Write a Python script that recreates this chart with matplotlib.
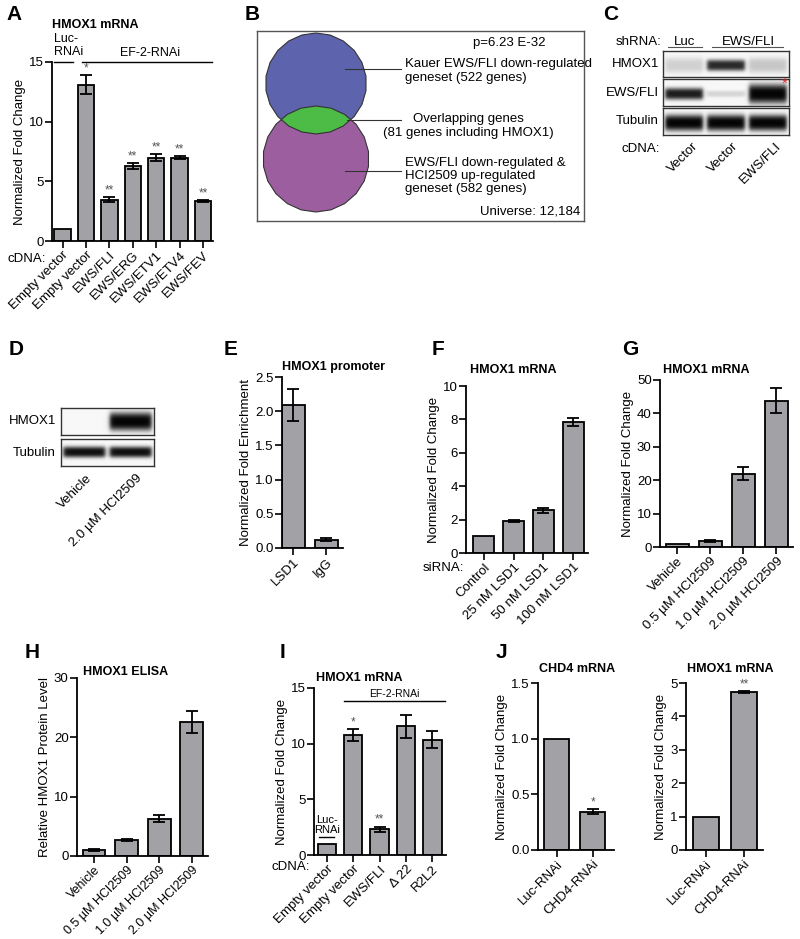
import numpy as np
import matplotlib
matplotlib.use("Agg")
import matplotlib.pyplot as plt
from matplotlib.patches import RegularPolygon

plt.rcParams['font.family'] = ['Liberation Sans', 'DejaVu Sans']
plt.rcParams['font.size'] = 9.5

W, H = 800, 939
BAR_COLOR = "#a2a2a6"

# ── Data ────────────────────────────────────────────────────────────────
a_labels = ["Empty vector", "Empty vector", "EWS/FLI", "EWS/ERG",
            "EWS/ETV1", "EWS/ETV4", "EWS/FEV"]
a_vals = [1.0, 13.1, 3.45, 6.28, 6.97, 6.97, 3.33]
a_errs = [0, 0.82, 0.22, 0.27, 0.3, 0.12, 0.1]
a_stars = ["", "*", "**", "**", "**", "**", "**"]

e_labels = ["LSD1", "IgG"]
e_vals = [2.09, 0.12]
e_errs = [0.24, 0.02]

f_labels = ["Control", "25 nM LSD1", "50 nM LSD1", "100 nM LSD1"]
f_vals = [1.0, 1.9, 2.55, 7.85]
f_errs = [0, 0.05, 0.14, 0.22]

g_labels = ["Vehicle", "0.5 µM HCI2509", "1.0 µM HCI2509", "2.0 µM HCI2509"]
g_vals = [1.0, 1.7, 22.0, 43.8]
g_errs = [0, 0.25, 2.0, 3.8]

h_labels = ["Vehicle", "0.5 µM HCI2509", "1.0 µM HCI2509", "2.0 µM HCI2509"]
h_vals = [0.95, 2.65, 6.3, 22.6]
h_errs = [0.15, 0.15, 0.6, 1.85]

i_labels = ["Empty vector", "Empty vector", "EWS/FLI", "Δ 22", "R2L2"]
i_vals = [1.0, 10.8, 2.3, 11.55, 10.35]
i_errs = [0, 0.55, 0.25, 1.05, 0.75]
i_stars = ["", "*", "**", "", ""]

j_labels = ["Luc-RNAi", "CHD4-RNAi"]
j1_vals = [1.0, 0.345]
j1_errs = [0, 0.02]
j2_vals = [1.0, 4.73]
j2_errs = [0, 0.03]

# western blot band intensities (0 = no band, 1 = saturated)
c_rows = ["HMOX1", "EWS/FLI", "Tubulin"]
c_lanes = ["Vector", "Vector", "EWS/FLI"]
c_levels = [[0.16, 0.85, 0.2], [0.9, 0.14, 1.0], [1.0, 1.0, 1.0]]
c_thick = [[0.3, 0.22, 0.3], [0.22, 0.12, 0.36], [0.3, 0.3, 0.3]]
d_rows = ["HMOX1", "Tubulin"]
d_lanes = ["Vehicle", "2.0 µM HCI2509"]
d_levels = [[0.0, 1.0], [0.95, 0.95]]
d_thick = [[0.3, 0.34], [0.2, 0.2]]


fig = plt.figure(figsize=(W / 100, H / 100), dpi=100)


def px_axes(x0, y0, x1, y1):
    return fig.add_axes([x0 / W, 1 - y1 / H, (x1 - x0) / W, (y1 - y0) / H])


def ftext(x, y, s, **kw):
    kw.setdefault("va", "baseline")
    return fig.text(x / W, 1 - y / H, s, **kw)


def bar_panel(rect, labels, vals, errs, ylim, yticks, xlim,
              ylabel="Normalized Fold Change", stars=None, width=0.7,
              ticklabels=None):
    ax = px_axes(*rect)
    x = np.arange(len(vals))
    ax.bar(x, vals, width, color=BAR_COLOR, edgecolor="black",
           linewidth=1.3, zorder=2)
    errs = np.asarray(errs, dtype=float)
    m = errs > 0
    ax.errorbar(x[m], np.asarray(vals)[m], yerr=errs[m], fmt="none",
                ecolor="black", elinewidth=1.3, capsize=4, capthick=1.3,
                zorder=3)
    if stars:
        for xi, v, e, s in zip(x, vals, errs, stars):
            if s:
                ax.annotate(s, (xi, v + e), xytext=(0, 0.5),
                            textcoords="offset points", ha="center",
                            va="bottom", fontsize=8.5, color="#555555")
    ax.set_xlim(*xlim)
    ax.set_ylim(*ylim)
    ax.set_yticks(yticks)
    ax.set_xticks(x)
    ax.set_xticklabels(labels, rotation=45, ha="right",
                       rotation_mode="anchor")
    for sp in ["top", "right"]:
        ax.spines[sp].set_visible(False)
    for sp in ["left", "bottom"]:
        ax.spines[sp].set_linewidth(1.3)
    ax.tick_params(direction="out", length=5, width=1.2, labelsize=9.5,
                   pad=1)
    if ticklabels is not None:
        ax.set_yticklabels(ticklabels)
    ax.set_ylabel(ylabel, fontsize=9.5, labelpad=2)
    return ax


def draw_blot(rect, levels, thick, center=0.55):
    ax = px_axes(*rect)
    n = len(levels)
    xs = np.linspace(0, n, 400)
    ys = np.linspace(0, 1, 80)
    X, Y = np.meshgrid(xs, ys)
    img = np.zeros_like(X)
    for i, (lev, th) in enumerate(zip(levels, thick)):
        cx = i + 0.5
        hor = 0.5 * (np.tanh((X - (cx - 0.45)) / 0.05)
                     - np.tanh((X - (cx + 0.45)) / 0.05))
        ver = np.exp(-np.abs((Y - center) / th) ** 3)
        img += lev * hor * ver
    img = 0.97 - 0.95 * np.clip(img, 0, 1)
    ax.imshow(img, cmap="gray", vmin=0, vmax=1, extent=(0, n, 1, 0),
              aspect="auto", interpolation="bilinear")
    ax.set_xticks([])
    ax.set_yticks([])
    for sp in ax.spines.values():
        sp.set_linewidth(1.0)
        sp.set_color("#333333")
    return ax


# ── Panel letters ───────────────────────────────────────────────────────
for letter, (lx, ly) in {"A": (6, 20), "B": (245, 20), "C": (603, 20),
                         "D": (9, 355), "E": (224, 355), "F": (432, 355),
                         "G": (622, 355), "H": (25, 658), "I": (280, 658),
                         "J": (496, 658)}.items():
    ftext(lx, ly, letter, fontsize=15, fontweight="bold")

# ── A ───────────────────────────────────────────────────────────────────
axA = bar_panel((52, 62, 213, 241), a_labels, a_vals, a_errs, (0, 15),
                [0, 5, 10, 15], (-0.45, 6.43), stars=a_stars)
ftext(52, 28, "HMOX1 mRNA", fontsize=9, fontweight="bold")
axA.plot([-0.36, 0.43], [15, 15], color="black", lw=1, clip_on=False)
axA.plot([0.82, 6.4], [15, 15], color="black", lw=1, clip_on=False)
axA.annotate("Luc-\nRNAi", (-0.35, 15), xytext=(0, 3),
             textcoords="offset points", ha="left", va="bottom",
             fontsize=9, linespacing=1.05)
axA.annotate("EF-2-RNAi", (3.73, 15), xytext=(0, 2),
             textcoords="offset points", ha="center", va="bottom",
             fontsize=9)
ftext(7, 262, "cDNA:")

# ── B (Venn) ────────────────────────────────────────────────────────────
axB = px_axes(257, 31, 584, 221)
axB.set_xlim(257, 584)
axB.set_ylim(221, 31)
axB.set_xticks([])
axB.set_yticks([])
for sp in axB.spines.values():
    sp.set_color("#555555")
    sp.set_linewidth(1.0)
blue = RegularPolygon((316, 83.5), 22, radius=50.5, facecolor="#5d63ad",
                      edgecolor="none")
pink = RegularPolygon((316, 159), 22, radius=53, facecolor="#9d5e9f",
                      edgecolor="none")
green = RegularPolygon((316, 159), 22, radius=53, facecolor="#4cbc46",
                       edgecolor="none")
axB.add_patch(blue)
axB.add_patch(pink)
axB.add_patch(green)
green.set_clip_path(blue)
for c, r in [((316, 83.5), 50.5), ((316, 159), 53)]:
    axB.add_patch(RegularPolygon(c, 22, radius=r, facecolor="none",
                                 edgecolor="#333333", lw=0.8))
axB.text(509, 46, "p=6.23 E-32", ha="center", va="baseline", fontsize=9.5)
axB.plot([345, 401], [69, 69], color="#333333", lw=0.8)
axB.text(405, 71, "Kauer EWS/FLI down-regulated\ngeneset (522 genes)",
         ha="left", va="center", fontsize=9.5, linespacing=1.15)
axB.plot([347, 401], [120, 120], color="#333333", lw=0.8)
axB.text(468, 126, "Overlapping genes\n(81 genes including HMOX1)",
         ha="center", va="center", fontsize=9.5, linespacing=1.15)
axB.plot([345, 401], [171, 171], color="#333333", lw=0.8)
axB.text(405, 176, "EWS/FLI down-regulated &\nHCI2509 up-regulated\n"
         "geneset (582 genes)", ha="left", va="center", fontsize=9.5,
         linespacing=1.15)
axB.text(580, 214, "Universe: 12,184", ha="right", va="baseline",
         fontsize=9.5)

# ── C (western blot) ────────────────────────────────────────────────────
c_boxes = [(51, 77), (79, 106), (108, 135)]
for name, lev, th, (t, b) in zip(c_rows, c_levels, c_thick, c_boxes):
    draw_blot((663, t, 789, b), lev, th)
    ftext(659, (t + b) / 2, name, ha="right", va="center")
ftext(661, 45, "shRNA:", ha="right")
ftext(685, 45, "Luc", ha="center")
ftext(748, 45, "EWS/FLI", ha="center")
fig.add_artist(plt.Line2D([668 / W, 702 / W], [1 - 47 / H] * 2,
                          color="#555555", lw=0.8))
fig.add_artist(plt.Line2D([712 / W, 783 / W], [1 - 47 / H] * 2,
                          color="#555555", lw=0.8))
ftext(785, 88, "*", ha="center", color="#e03030", fontsize=11)
ftext(660, 152, "cDNA:", ha="right")
for lab, lx in zip(c_lanes, [692, 732, 775]):
    ftext(lx, 140, lab, ha="right", va="top", rotation=45,
          rotation_mode="anchor")

# ── D (western blot) ────────────────────────────────────────────────────
d_boxes = [(408, 435), (439, 466)]
for name, lev, th, (t, b) in zip(d_rows, d_levels, d_thick, d_boxes):
    draw_blot((61, t, 154, b), lev, th, center=0.5)
    ftext(56, (t + b) / 2, name, ha="right", va="center")
for lab, lx in zip(d_lanes, [86, 136]):
    ftext(lx, 472, lab, ha="right", va="top", rotation=45,
          rotation_mode="anchor")

# ── E ───────────────────────────────────────────────────────────────────
bar_panel((282, 377, 343, 548), e_labels, e_vals, e_errs, (0, 2.5),
          [0, 0.5, 1.0, 1.5, 2.0, 2.5], (-0.34, 1.5),
          ylabel="Normalized Fold Enrichment",
          ticklabels=["0.0", "0.5", "1.0", "1.5", "2.0", "2.5"])
ftext(282, 370, "HMOX1 promoter", fontsize=9, fontweight="bold")

# ── F ───────────────────────────────────────────────────────────────────
bar_panel((466, 386, 588, 553), f_labels, f_vals, f_errs, (0, 10),
          [0, 2, 4, 6, 8, 10], (-0.6, 3.5))
ftext(513, 373, "HMOX1 mRNA", fontsize=9, fontweight="bold", ha="center")
ftext(464, 571, "siRNA:", ha="right")

# ── G ───────────────────────────────────────────────────────────────────
bar_panel((660, 380, 793, 547), g_labels, g_vals, g_errs, (0, 50),
          [0, 10, 20, 30, 40, 50], (-0.52, 3.5))
ftext(706, 373, "HMOX1 mRNA", fontsize=9, fontweight="bold", ha="center")

# ── H ───────────────────────────────────────────────────────────────────
axH = bar_panel((77, 678, 208, 856), h_labels, h_vals, h_errs, (0, 30),
                [0, 10, 20, 30], (-0.52, 3.5),
                ylabel="Relative HMOX1 Protein Level")
axH.tick_params(axis="x", labelsize=9)
ftext(126, 675, "HMOX1 ELISA", fontsize=9, fontweight="bold", ha="center")

# ── I ───────────────────────────────────────────────────────────────────
axI = bar_panel((314, 688, 446, 855), i_labels, i_vals, i_errs, (0, 15),
                [0, 5, 10, 15], (-0.49, 4.52), stars=i_stars)
ftext(359, 681, "HMOX1 mRNA", fontsize=9, fontweight="bold", ha="center")
axI.plot([0.65, 4.49], [13.8, 13.8], color="black", lw=1, clip_on=False)
axI.annotate("EF-2-RNAi", (2.55, 13.8), xytext=(0, 2),
             textcoords="offset points", ha="center", va="bottom",
             fontsize=7.5)
axI.plot([-0.3, 0.27], [1.6, 1.6], color="black", lw=1)
axI.annotate("Luc-\nRNAi", (0, 1.6), xytext=(0, 1.5),
             textcoords="offset points", ha="center", va="bottom",
             fontsize=8, linespacing=1.0)
ftext(310, 870, "cDNA:", ha="right")

# ── J ───────────────────────────────────────────────────────────────────
bar_panel((538, 683, 614, 850), j_labels, j1_vals, j1_errs, (0, 1.5),
          [0, 0.5, 1.0, 1.5], (-0.53, 1.6), stars=["", "*"],
          ticklabels=["0.0", "0.5", "1.0", "1.5"])
ftext(577, 672, "CHD4 mRNA", fontsize=9, fontweight="bold", ha="center")
bar_panel((686, 683, 763, 850), j_labels, j2_vals, j2_errs, (0, 5),
          [0, 1, 2, 3, 4, 5], (-0.53, 1.5), stars=["", "**"])
ftext(730, 672, "HMOX1 mRNA", fontsize=9, fontweight="bold", ha="center")

fig.savefig("out.png", dpi=100)
